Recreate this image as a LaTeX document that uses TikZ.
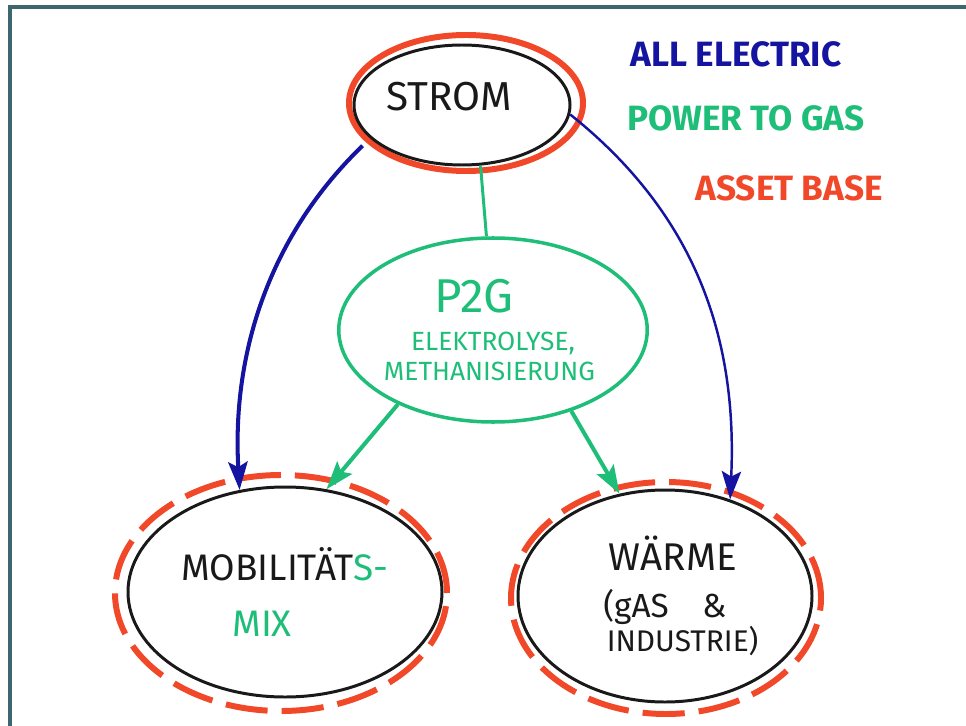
\documentclass[tikz,border=0pt]{standalone}
\usepackage{fontspec}
\setmainfont{Fira Sans}
\usepackage{xcolor}
\definecolor{markerblue} {RGB}{20,20,160}
\definecolor{markergreen}{RGB}{30,190,120}
\definecolor{markerred}  {RGB}{240,72,40}
\definecolor{markerblack}{RGB}{25,25,25}
\definecolor{boardframe} {RGB}{62,102,110}
\colorlet{allelectric}{markerblue}
\colorlet{powertogas} {markergreen}
\colorlet{assetbase}  {markerred}
\usetikzlibrary{arrows.meta, shapes.geometric}
\newlength\pxu
\setlength\pxu{0.02cm}
\newcommand\handtext[2]{\fontsize{#1}{#2}\selectfont}
\tikzset{
  blob/.style={ellipse, draw=#1, inner sep=0pt, align=center},
  ring/.style={draw=assetbase, line width=3.4pt},
  dashring/.style={ring, dash pattern=on 24pt off 8pt},
  flow/.style={draw=#1, line width=2.3pt,
    -{Stealth[length=16pt, width=11pt, inset=3pt]}},
  keytext/.style={text=#1, font=\bfseries\handtext{20}{22}},
}

\begin{document}
\begin{tikzpicture}[x=0.02cm, y=-0.02cm,
  sector/.style={blob=markerblack, line width=1.7pt, text=markerblack}]
\useasboundingbox (0,0) rectangle (966,726);
% whiteboard frame (runs out past the right and lower edge)
\draw[boardframe, line width=2.3pt] (10,740) -- (10,7) -- (980,7);
% asset base rings (drawn first; the sectors sit inside)
\draw[ring] (466,103) ellipse [x radius=117\pxu, y radius=68\pxu];
\draw[dashring] (281,593) ellipse [x radius=166\pxu, y radius=118\pxu];
\draw[dashring] (666,598) ellipse [x radius=155\pxu, y radius=116\pxu];
% sectors
\node[sector, minimum width=216\pxu, minimum height=120\pxu]
  (strom) at (462,105) {\handtext{23}{26}\raisebox{10pt}{STROM}\hspace*{15pt}};
\node[blob=powertogas, line width=2pt, text=powertogas,
      minimum width=294\pxu, minimum height=184\pxu] (p2g) at (493,330)
  {\handtext{27}{30}P2G\hspace*{22pt}\\[10pt]
   \handtext{15}{19}ELEKTROLYSE,\hspace*{12pt}\\[3pt]
   \handtext{15}{19}METHANISIERUNG\hspace*{4pt}};
\node[sector, minimum width=314\pxu, minimum height=210\pxu] (mob) at (285,592)
  {\handtext{21}{24}MOBILITÄT\textcolor{powertogas}{S-}\\[16pt]
   \handtext{21}{24}\textcolor{powertogas}{MIX}\hspace*{26pt}};
\node[sector, minimum width=294\pxu, minimum height=212\pxu] (warme) at (665,596)
  {\handtext{22}{24}\hspace*{9pt}WÄRME\\[10pt]
   \handtext{19}{21}(gAS\hspace{1em}\&\hspace*{62pt}\\
   \handtext{17}{20}\hspace*{20pt}INDUSTRIE)};
% connectors
\draw[markergreen, line width=1.7pt] (strom.-73) -- (p2g.94);
\draw[flow=allelectric, shorten <=6pt] (strom.200)
  .. controls (265,240) and (232,360) .. (mob.114);
\draw[flow=allelectric, line width=1.4pt] (strom.355)
  .. controls (690,210) and (738,330) .. (warme.56);
\draw[flow=powertogas] (p2g.218) -- (mob.68);
\draw[flow=powertogas] (p2g.314) -- (warme.114);
% key
\node[keytext=allelectric] (allelec)  at (736,54)  {ALL ELECTRIC};
\node[keytext=powertogas]  (p2gkey)   at (746,118) {POWER TO GAS};
\node[keytext=assetbase]   (assetkey) at (789,188) {ASSET BASE};
\end{tikzpicture}
\end{document}
